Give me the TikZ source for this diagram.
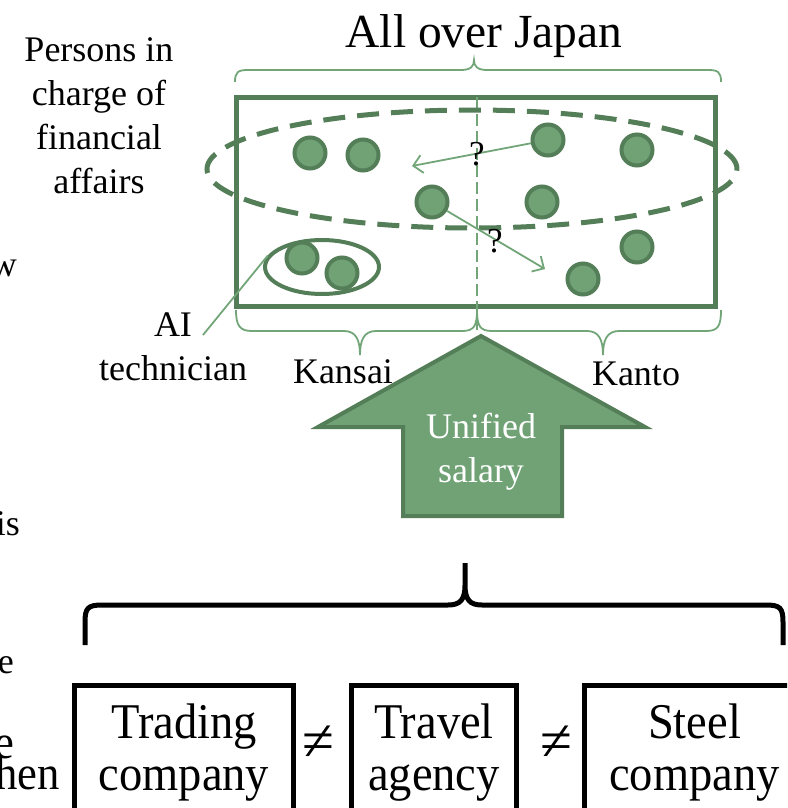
\documentclass[tikz,border=0pt]{standalone}
\usepackage{fontspec}
\setmainfont{Liberation Serif}
\newfontfamily\condfont[FakeStretch=0.93]{Liberation Serif}
\usetikzlibrary{arrows.meta,shapes.geometric}
\definecolor{gdark}{RGB}{84,126,88}
\definecolor{gfill}{RGB}{112,162,117}
\definecolor{gline}{RGB}{114,166,120}
\newcommand\setfs[2]{\fontsize{#1}{#2}\selectfont}

\begin{document}
\begin{tikzpicture}[x=1pt,y=-1pt,
  person/.style={circle, draw=gdark, fill=gfill, line width=4pt, minimum size=31pt, inner sep=0pt},
  mapframe/.style={draw=gdark, line width=5pt, inner sep=0pt},
  group/.style={ellipse, draw=gdark, line width=4pt, inner sep=0pt},
  thinline/.style={draw=gline, line width=1.8pt},
  flow/.style={thinline, -{Straight Barb[length=9pt,width=18pt,line width=1.8pt]}},
  txt/.style={inner sep=0pt, font=\setfs{36}{44}, align=center},
  qmark/.style={inner sep=0pt, font=\setfs{35}{35}},
  company/.style={draw=black, line width=5pt, inner sep=0pt, minimum height=134pt,
                  align=center, font=\condfont\setfs{50}{52}},
  neq/.style={inner sep=0pt, font=\setfs{58}{58}},
  cut/.style={inner sep=0pt, anchor=base east}]
\useasboundingbox (0,0) rectangle (787,808);
\clip (0,0) rectangle (787,808);

% title and top brace over the whole country
\node[inner sep=0pt, anchor=base, font=\setfs{47.5}{50}] (title) at (484,48) {All over Japan};
\draw[thinline] (235,82) .. controls (235,72) and (238,70) .. (248,70) -- (461,70)
  .. controls (471,70) and (474,66) .. (474,60)
  .. controls (474,66) and (477,70) .. (487,70) -- (708,70)
  .. controls (718,70) and (721,72) .. (721,82);

% the map frame and the regional split
\node[mapframe, minimum width=479pt, minimum height=209pt] (japan) at (476,202) {};
\coordinate (splittop) at (477,97);
\coordinate (splitbot) at (477,331);
\draw[draw=gline, line width=1.5pt, dash pattern=on 12pt off 5pt] (splittop) -- (splitbot);

% finance staff across the country
\node[ellipse, draw=gdark, line width=5pt, dash pattern=on 22pt off 12pt,
      minimum width=530pt, minimum height=118pt, inner sep=0pt] (finance) at (472,169) {};

\node[person] (p1) at (310,153) {};
\node[person] (p2) at (363,155) {};
\node[person] (p3) at (432,202) {};
\node[person] (p4) at (548,140) {};
\node[person] (p5) at (637,150) {};
\node[person] (p6) at (542,202) {};
\node[person] (p7) at (637,247) {};
\node[person] (p8) at (583,279) {};

% AI technicians
\node[group, minimum width=114pt, minimum height=54pt] (tech) at (322,267) {};
\node[person] (p9) at (302,258) {};
\node[person] (p10) at (342,273) {};

% movement between regions
\coordinate (westend) at (412,166);
\coordinate (eastend) at (545,269);
\draw[flow] (p4) -- (westend);
\draw[flow] (p3) -- (eastend);
\node[qmark, anchor=base] (q1) at (477,165) {?};
\node[qmark, anchor=base] (q2) at (495,252) {?};

% side labels
\node[txt, anchor=north] (persons) at (99,37.5) {Persons in\\charge of\\financial\\affairs};
\node[txt, anchor=north] (ai) at (173,313) {AI\\technician};
\coordinate (aitip) at (203,335);
\draw[thinline] (aitip) -- (tech.168);

% regional braces
\draw[thinline] (236,310) .. controls (236,326) and (240,331) .. (252,331) -- (344,331)
  .. controls (356,331) and (360,340) .. (360,355)
  .. controls (360,340) and (364,331) .. (376,331) -- (462,331)
  .. controls (474,331) and (477,326) .. (477,310);
\draw[thinline] (477,310) .. controls (477,326) and (480,331) .. (492,331) -- (587,331)
  .. controls (599,331) and (603,340) .. (603,355)
  .. controls (603,340) and (607,331) .. (619,331) -- (706,331)
  .. controls (718,331) and (721,326) .. (721,310);
\node[txt, anchor=base] (kansai) at (343,383) {Kansai};
\node[txt, anchor=base] (kanto) at (636,385) {Kanto};

% unified salary arrow
\draw[draw=gdark, fill=gfill, line width=4pt, line join=miter]
  (481,336) -- (645,427) -- (562,427) -- (562,516) -- (403,516) -- (403,427) -- (318,427) -- cycle;
\node[txt, anchor=north, text=white] (salary) at (481,413.4) {Unified\\salary};

% companies under one brace
\draw[draw=black, line width=5pt]
  (85,645) -- (85,622) .. controls (85,608) and (88,605) .. (102,605) -- (448,605)
  .. controls (460,605) and (465,600) .. (465,585) -- (465,563)
  -- (465,585) .. controls (465,600) and (470,605) .. (482,605) -- (766,605)
  .. controls (780,605) and (783,608) .. (783,622) -- (783,645);

\node[company, minimum width=219pt] (trading) at (184,752.5) {Trading\\company};
\node[company, minimum width=165pt] (travel) at (434,752.5) {Travel\\agency};
\node[company, minimum width=220pt] (steel) at (694.5,752.5) {Steel\\company};
\node[neq] (ne1) at (318,743) {≠};
\node[neq] (ne2) at (556,743) {≠};

% text running in from the left margin
\node[cut, font=\setfs{36}{36}] (frag1) at (17,276) {w};
\node[cut, font=\setfs{36}{36}] (frag2) at (20,535) {is};
\node[cut, font=\setfs{36}{36}] (frag3) at (14,673) {e};
\node[cut, font=\condfont\setfs{48}{48}] (frag4) at (15,758) {e};
\node[cut, font=\condfont\setfs{48}{48}] (frag5) at (60,789) {when};
\end{tikzpicture}
\end{document}
